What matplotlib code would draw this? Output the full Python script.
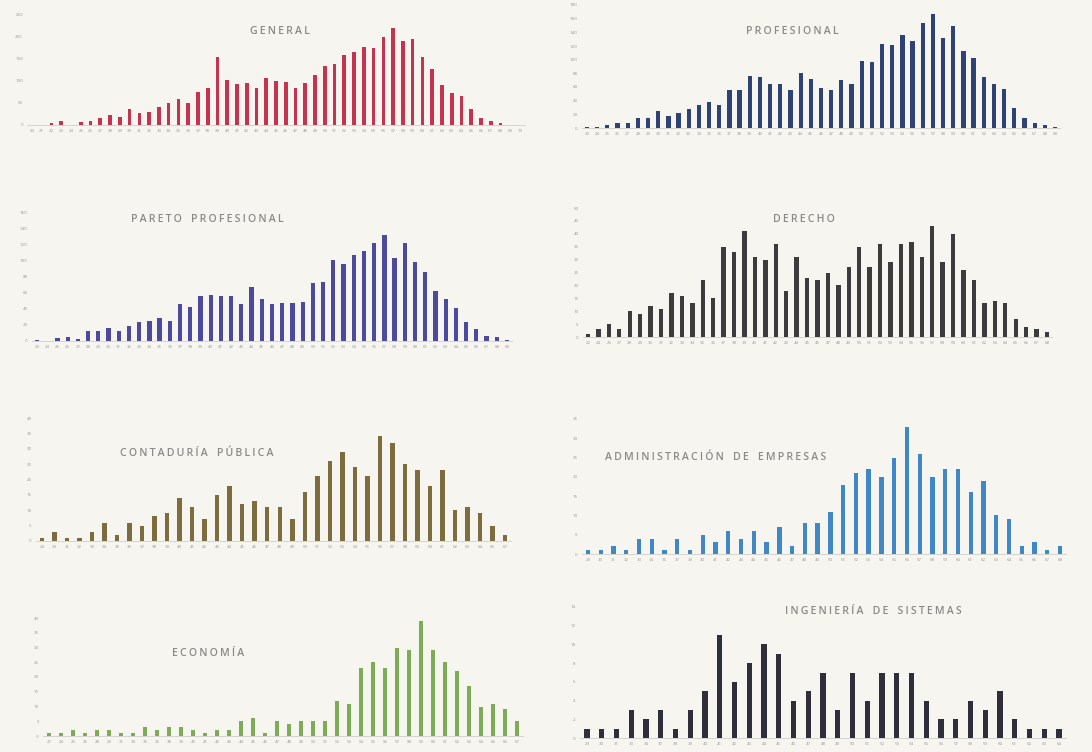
import matplotlib
matplotlib.use("Agg")
import matplotlib.pyplot as plt

W, H = 1092, 752
PAPER = "#f6f5ef"

# ---- data: counts by age for each group ----
general_ages = list(range(20, 71))
general_vals = [1, 1, 5, 10, 1, 7, 10, 15, 22, 19, 37, 27, 30, 42, 50, 60, 50, 75, 85, 155,
                103, 93, 95, 85, 107, 101, 98, 85, 95, 113, 135, 139, 160, 167, 178, 175,
                200, 220, 192, 195, 155, 127, 92, 72, 65, 37, 15, 10, 5, 1, 1]

profesional_ages = list(range(23, 70))
profesional_vals = [1, 1, 4, 8, 7, 14, 14, 25, 17, 22, 28, 33, 38, 33, 55, 55, 76, 74, 65, 65,
                    56, 80, 71, 59, 56, 70, 64, 98, 96, 123, 122, 136, 128, 153, 167, 131,
                    149, 112, 102, 74, 64, 57, 30, 15, 8, 4, 1]

pareto_ages = list(range(23, 70))
pareto_vals = [1, 0, 4, 5, 2, 12, 12, 16, 13, 19, 24, 25, 29, 25, 46, 43, 56, 57, 56, 56, 46,
               68, 52, 46, 47, 48, 49, 73, 74, 101, 96, 108, 112, 122, 132, 104, 122, 99, 86,
               62, 52, 41, 24, 15, 6, 5, 1]

derecho_ages = [22, 24, 26, 27] + list(range(28, 69))
derecho_vals = [1, 3, 5, 3, 10, 9, 12, 11, 17, 16, 13, 22, 15, 35, 33, 41, 31, 30, 36, 18, 31,
                23, 22, 25, 20, 27, 35, 27, 36, 29, 36, 37, 31, 43, 29, 40, 26, 22, 13, 14, 13,
                7, 4, 3, 2]

contaduria_ages = [24] + list(range(30, 66)) + [67]
contaduria_vals = [1, 3, 1, 1, 3, 6, 2, 6, 5, 8, 9, 14, 11, 7, 15, 18, 12, 13, 11, 11, 7, 16,
                   21, 26, 29, 24, 21, 34, 32, 25, 23, 18, 23, 10, 11, 9, 5, 2]

admin_ages = list(range(29, 36)) + [37] + list(range(39, 69))
admin_vals = [1, 1, 2, 1, 4, 4, 1, 4, 1, 5, 3, 6, 4, 6, 3, 7, 2, 8, 8, 11, 18, 21, 22, 20, 25,
              33, 26, 20, 22, 22, 16, 19, 10, 9, 2, 3, 1, 2]

economia_ages = [27, 24, 25, 26, 28, 29, 31, 34, 35, 36, 38, 39, 40, 41, 42, 43] + list(range(44, 68))
economia_vals = [1, 1, 2, 1, 2, 2, 1, 1, 3, 2, 3, 3, 2, 1, 2, 2, 5, 6, 1, 5, 4, 5, 5, 5, 12,
                 11, 23, 25, 23, 30, 29, 39, 29, 25, 22, 17, 10, 11, 9, 5]

sistemas_ages = [29, 30, 31, 33, 34, 37, 38, 39] + list(range(40, 65))
sistemas_vals = [1, 1, 1, 3, 2, 3, 1, 3, 5, 11, 6, 8, 10, 9, 4, 5, 7, 3, 7, 4, 7, 7, 7, 4, 2,
                 2, 4, 3, 5, 2, 1, 1, 1]

# ---- panel layout (pixel geometry of each plotting area) ----
panels = [
    dict(title="GENERAL", ages=general_ages, vals=general_vals, color="#c4334f",
         first=32, last=520, y0=125, ytop=15, ymax=250, step=50, width=0.38,
         title_xy=(280, 31)),
    dict(title="PROFESIONAL", ages=profesional_ages, vals=profesional_vals, color="#2e4275",
         first=587, last=1055, y0=128, ytop=5, ymax=180, step=20, width=0.42,
         title_xy=(792, 31)),
    dict(title="PARETO PROFESIONAL", ages=pareto_ages, vals=pareto_vals, color="#4c4a9c",
         first=37, last=507, y0=341, ytop=213, ymax=160, step=20, width=0.42,
         title_xy=(207, 219)),
    dict(title="DERECHO", ages=derecho_ages, vals=derecho_vals, color="#3c3c3e",
         first=588, last=1047, y0=337, ytop=208, ymax=50, step=5, width=0.42,
         title_xy=(804, 219)),
    dict(title="CONTADURÍA PÚBLICA", ages=contaduria_ages, vals=contaduria_vals, color="#7d6c3e",
         first=42, last=505, y0=541, ytop=418, ymax=40, step=5, width=0.36,
         title_xy=(197, 454)),
    dict(title="ADMINISTRACIÓN DE EMPRESAS", ages=admin_ages, vals=admin_vals, color="#3f87c5",
         first=588, last=1060, y0=554, ytop=419, ymax=35, step=5, width=0.34,
         title_xy=(716, 457)),
    dict(title="ECONOMÍA", ages=economia_ages, vals=economia_vals, color="#7dab58",
         first=49, last=517, y0=736, ytop=618, ymax=40, step=5, width=0.32,
         title_xy=(208, 654)),
    dict(title="INGENIERÍA DE SISTEMAS", ages=sistemas_ages, vals=sistemas_vals, color="#2f2f3b",
         first=587, last=1059, y0=738, ytop=607, ymax=14, step=2, width=0.36,
         title_xy=(873, 611)),
]

plt.rcParams["font.family"] = ["Open Sans", "DejaVu Sans"]


def spaced(text):
    """Open up the tracking of a caps heading with thin spaces."""
    return "\u2009".join(text).replace("\u2009 \u2009", "\u2009\u2009 \u2009")


fig = plt.figure(figsize=(W / 100, H / 100), dpi=100)
fig.patch.set_facecolor(PAPER)

for p in panels:
    n = len(p["vals"])
    pitch = (p["last"] - p["first"]) / (n - 1)
    left = p["first"] - pitch / 2
    right = p["last"] + pitch / 2
    ax = fig.add_axes([left / W, 1 - p["y0"] / H, (right - left) / W, (p["y0"] - p["ytop"]) / H])
    ax.set_facecolor("none")
    x = list(range(n))
    ax.bar(x, p["vals"], width=p["width"], color=p["color"], linewidth=0)
    ax.set_xlim(-0.5, n - 0.5)
    ax.set_ylim(0, p["ymax"])
    ax.set_yticks(list(range(0, p["ymax"] + 1, p["step"])))
    ax.set_xticks(x)
    ax.set_xticklabels([str(a) for a in p["ages"]])
    ax.tick_params(axis="both", length=0, labelsize=3.2, colors="#9a9a96", pad=3)
    for s in ("top", "right", "left"):
        ax.spines[s].set_visible(False)
    ax.spines["bottom"].set_color("#cfcfcb")
    ax.spines["bottom"].set_linewidth(0.6)
    tx, ty = p["title_xy"]
    fig.text(tx / W, 1 - ty / H, spaced(p["title"]), ha="center", va="center",
             fontsize=7.6, fontweight="semibold", color="#8a8a88")

fig.savefig("out.png", dpi=100, facecolor=PAPER)
